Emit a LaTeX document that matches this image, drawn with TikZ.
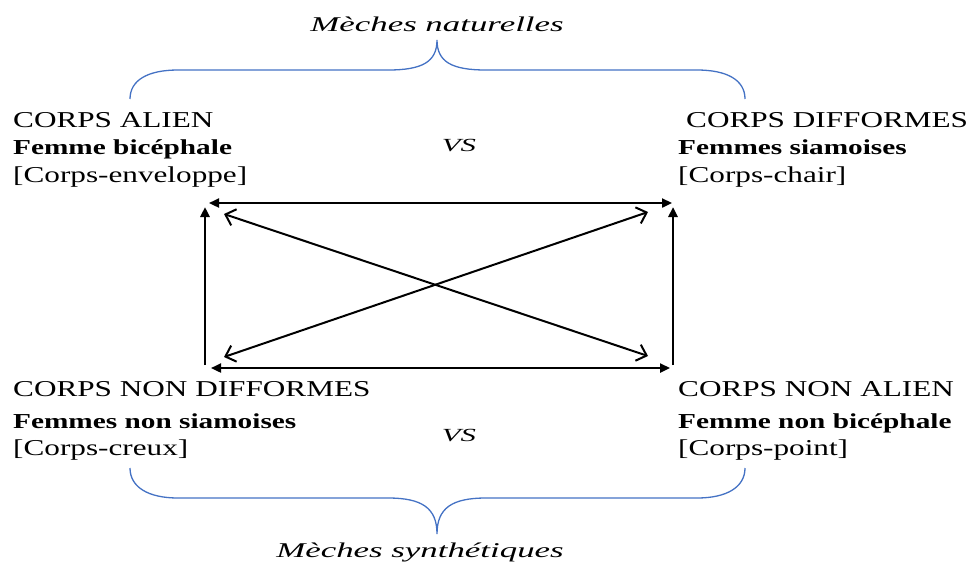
\documentclass[tikz,border=0pt]{standalone}
\usepackage{fontspec}
\usetikzlibrary{arrows.meta}
\newfontfamily\regf[FakeStretch=1.375]{Liberation Serif}
\newfontfamily\itf[FakeStretch=1.66]{Liberation Serif}
\definecolor{braceblue}{HTML}{4472C4}
\tikzset{
  lbl/.style={inner sep=0pt, anchor=base west, font=\regf\fontsize{22.7}{26}\selectfont},
  blbl/.style={inner sep=0pt, anchor=base west, font=\regf\bfseries\fontsize{21.3}{24}\selectfont},
  ttl/.style={inner sep=0pt, anchor=base, font=\itf\itshape\fontsize{21}{24}\selectfont},
  vslbl/.style={inner sep=0pt, anchor=base, font=\itf\itshape\fontsize{18.5}{22}\selectfont},
  filledarr/.style={line width=2.3pt, {Triangle[length=10pt,width=9pt]}-{Triangle[length=10pt,width=9pt]}},
  uparr/.style={line width=2.9pt, -{Triangle[length=10pt,width=9pt]}},
  openarr/.style={line width=2pt, {Straight Barb[length=9pt,width=17pt]}-{Straight Barb[length=9pt,width=17pt]}},
  bracestyle/.style={draw=braceblue, line width=1.3pt}
}
\begin{document}
\begin{tikzpicture}[x=1pt,y=-1pt]
\useasboundingbox (0,0) rectangle (974,563);
% titles
\node[ttl] (tn) at (437,31) {Mèches naturelles};
\node[ttl] (ts) at (420,557) {Mèches synthétiques};
% left top
\node[lbl]  (ca) at (13,127) {CORPS ALIEN};
\node[blbl] (fb) at (13,154) {Femme bicéphale};
\node[lbl]  (ce) at (13,182) {[Corps-enveloppe]};
% right top
\node[lbl]  (cd) at (686,127) {CORPS DIFFORMES};
\node[blbl] (fs) at (678,154) {Femmes siamoises};
\node[lbl]  (cc) at (678,182) {[Corps-chair]};
% left bottom
\node[lbl]  (cnd) at (13,396) {CORPS NON DIFFORMES};
\node[blbl] (fns) at (13,428) {Femmes non siamoises};
\node[lbl]  (ccr) at (13,455) {[Corps-creux]};
% right bottom
\node[lbl]  (cna) at (678,396) {CORPS NON ALIEN};
\node[blbl] (fnb) at (678,428) {Femme non bicéphale};
\node[lbl]  (cp) at (678,455) {[Corps-point]};
% VS
\node[vslbl] (vs1) at (459,151) {VS};
\node[vslbl] (vs2) at (459,441) {VS};
% arrow end points
\coordinate (tl) at (209,203);
\coordinate (tr) at (672,203);
\coordinate (bl) at (211,368);
\coordinate (br) at (670,368);
\coordinate (lvb) at (205,365);
\coordinate (lvt) at (205,207);
\coordinate (rvb) at (673,365);
\coordinate (rvt) at (673,207);
\coordinate (d1a) at (224,214);
\coordinate (d1b) at (648,356);
\coordinate (d2a) at (224,357);
\coordinate (d2b) at (648,212);
\draw[filledarr] (tl) -- (tr);
\draw[filledarr] (bl) -- (br);
\draw[uparr] (lvb) -- (lvt);
\draw[uparr] (rvb) -- (rvt);
\draw[openarr] (d1a) -- (d1b);
\draw[openarr] (d2a) -- (d2b);
% braces
\path[bracestyle] (130,99) .. controls (130,80) and (148,70) .. (178,70) -- (388,70)
  .. controls (422,70) and (437,62) .. (437,40)
  .. controls (437,62) and (452,70) .. (486,70) -- (697,70)
  .. controls (727,70) and (745,80) .. (745,99);
\path[bracestyle] (130,468) .. controls (130,487) and (148,498) .. (178,498) -- (388,498)
  .. controls (422,498) and (437,508) .. (437,534)
  .. controls (437,508) and (452,498) .. (486,498) -- (697,498)
  .. controls (727,498) and (745,487) .. (745,468);
\end{tikzpicture}
\end{document}
